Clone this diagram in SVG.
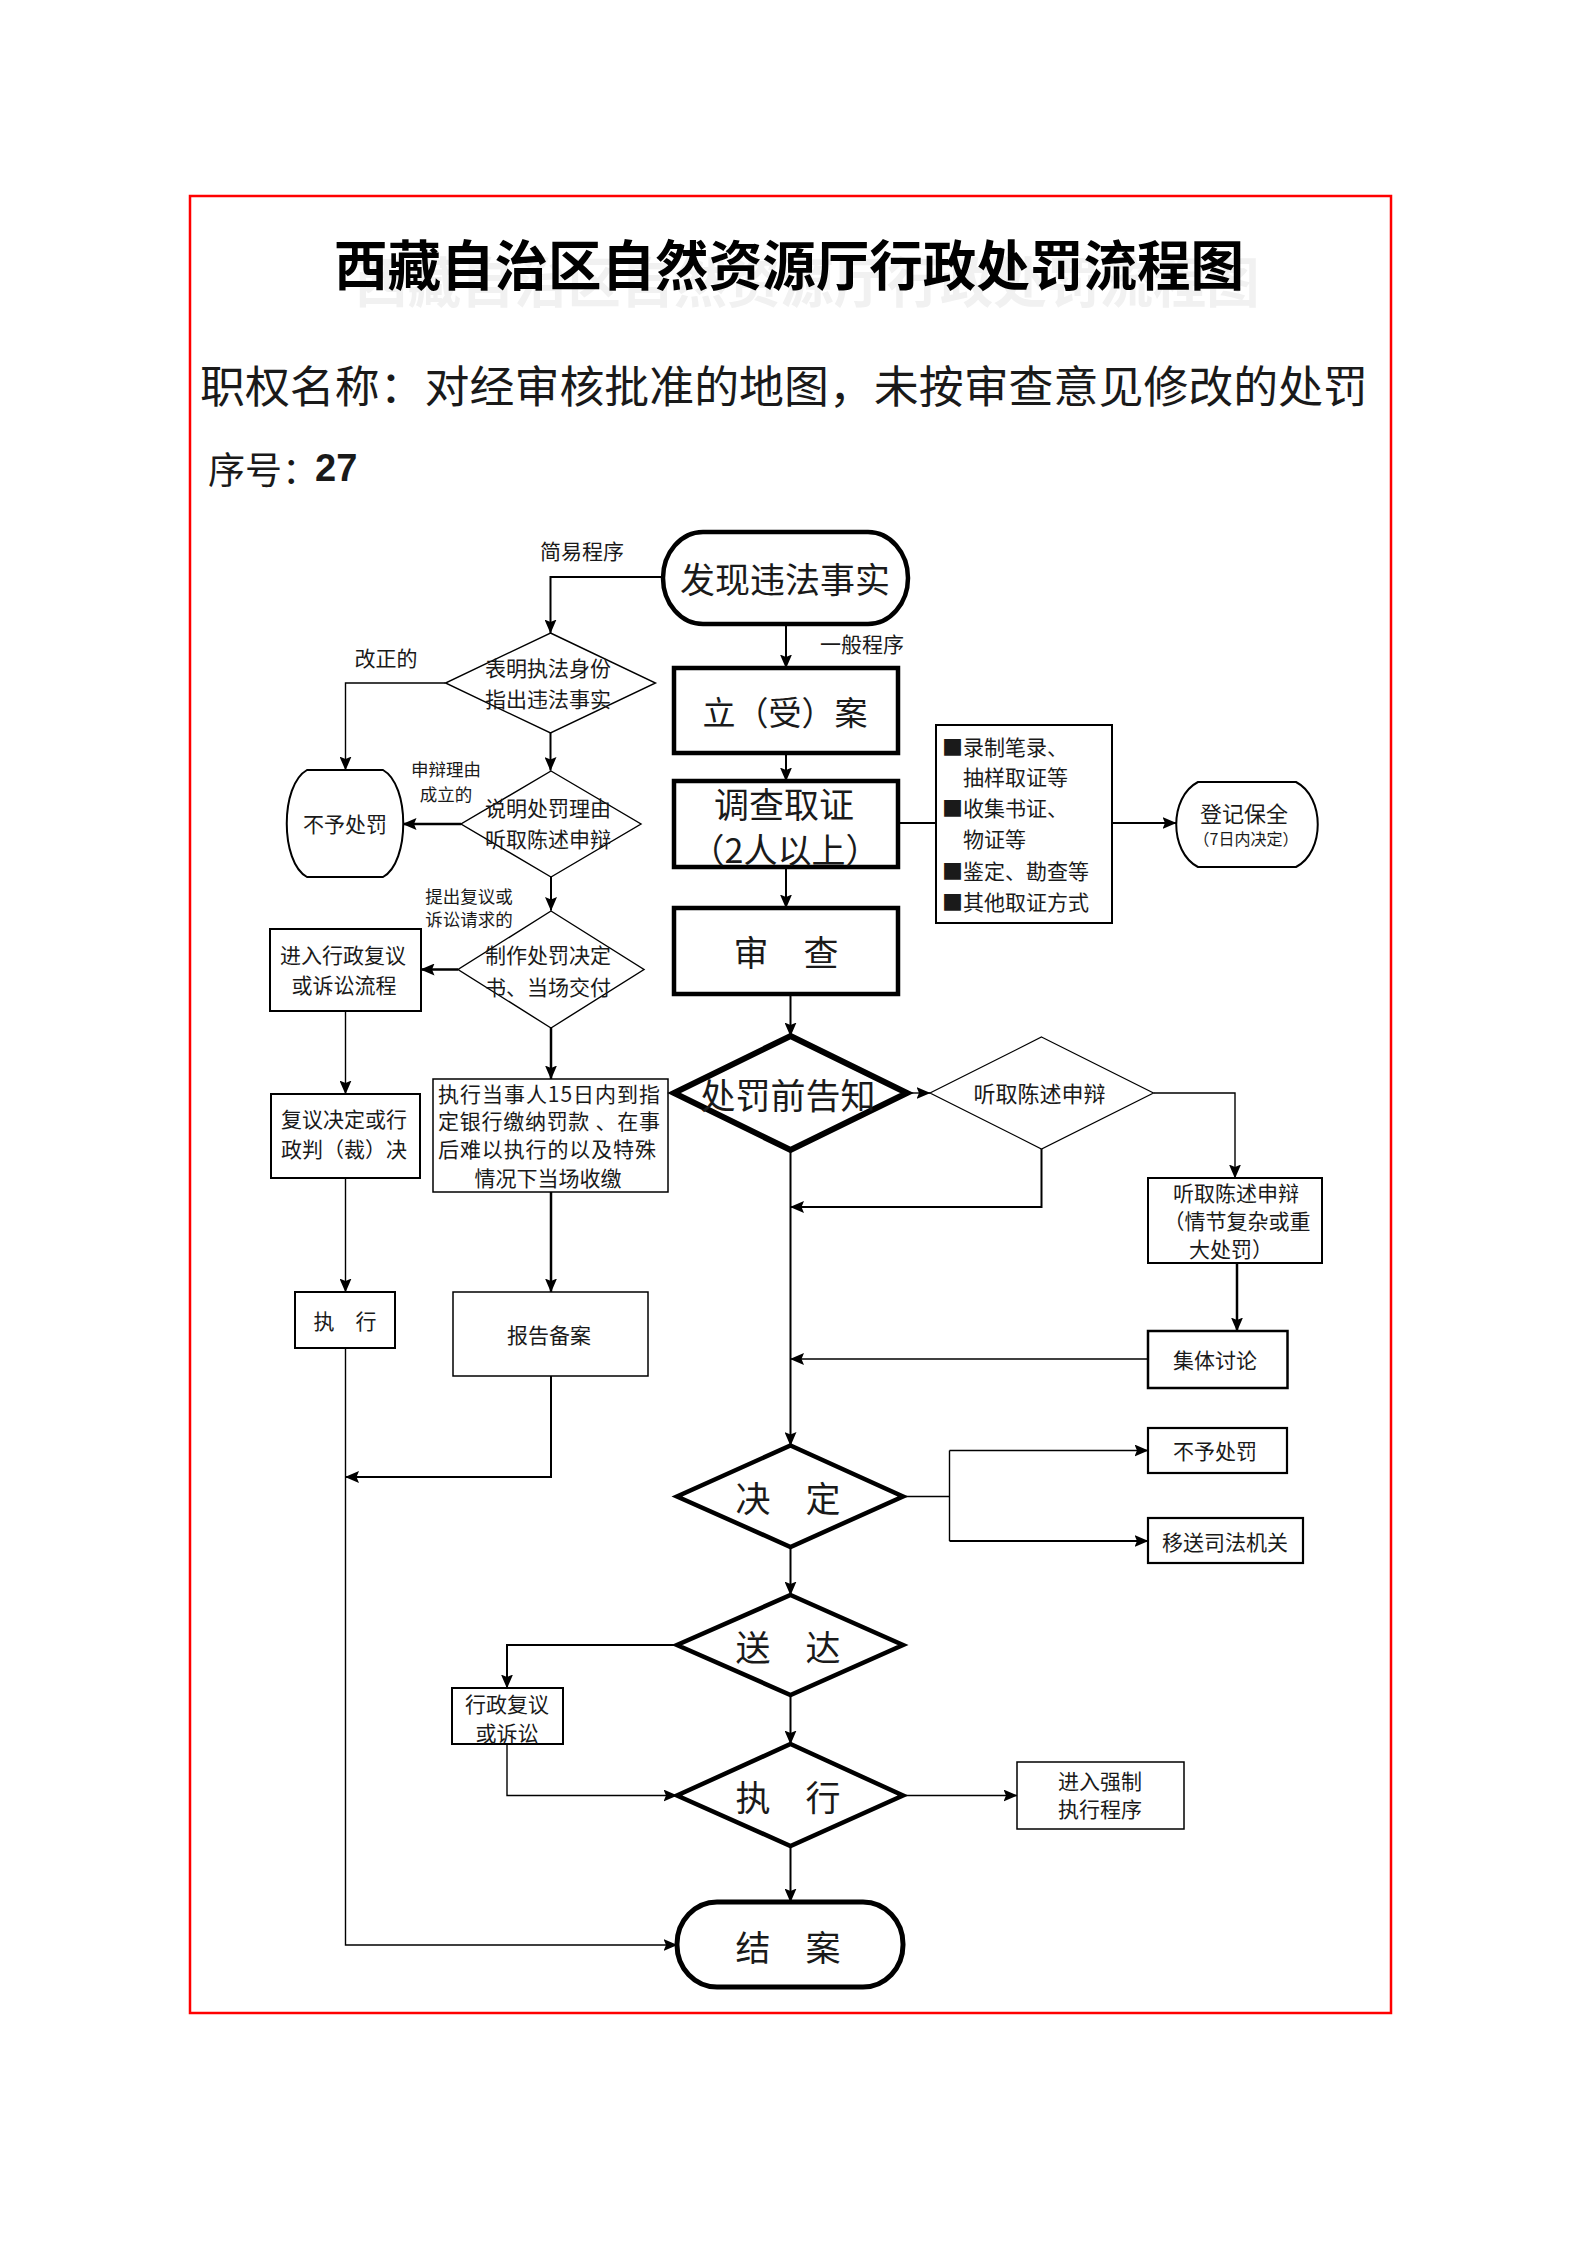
<svg xmlns="http://www.w3.org/2000/svg" width="1587" height="2245" viewBox="0 0 1587 2245">
<defs>
<marker id="ah" markerUnits="userSpaceOnUse" markerWidth="14" markerHeight="12" refX="13.5" refY="6" orient="auto"><path d="M0,0 L14,6 L0,12 L2.5,6 Z" fill="#000"/></marker>
<style>
text{font-family:"Noto Sans CJK SC","Noto Sans",sans-serif;fill:#1a1a1a;text-anchor:middle;dominant-baseline:central}
.t21{font-size:21px}
.t18{font-size:17.5px}
.t35{font-size:35px}
.n{fill:#fff;stroke:#000}
.thick{stroke-width:4.5}
.med{stroke-width:2}
.thin{stroke-width:1.4}
.c{fill:none;stroke:#000}
.c1{stroke-width:1.4}
.c2{stroke-width:2}
.c3{stroke-width:2.5}
.arr{marker-end:url(#ah)}
</style>
</defs>
<rect width="1587" height="2245" fill="#fff"/>
<rect x="190" y="196" width="1201" height="1817" fill="none" stroke="#ff0000" stroke-width="2.5"/>

<g id="header">
<text x="807" y="279" style="font-size:54px;font-weight:bold;fill:#f1f1f1" textLength="905" lengthAdjust="spacingAndGlyphs">西藏自治区自然资源厅行政处罚流程图</text>
<text x="789" y="262" style="font-size:54px;font-weight:bold;fill:#000" textLength="910" lengthAdjust="spacingAndGlyphs">西藏自治区自然资源厅行政处罚流程图</text>
<text x="200" y="384" style="font-size:44px;text-anchor:start" textLength="1168" lengthAdjust="spacingAndGlyphs">职权名称：对经审核批准的地图，未按审查意见修改的处罚</text>
<text x="208" y="468" style="font-size:37px;text-anchor:start">序号：<tspan x="315" style="font-family:'Liberation Sans',sans-serif;font-weight:bold;font-size:38px">27</tspan></text>
</g>

<g id="connectors">
<path class="c c2 arr" d="M786,624 V668"/>
<path class="c c2 arr" d="M663,577 H550.5 V633"/>
<path class="c c2 arr" d="M786,753 V781"/>
<path class="c c2 arr" d="M786,867 V908"/>
<path class="c c2" d="M898,823 H936"/>
<path class="c c2 arr" d="M1112,823 H1176"/>
<path class="c c2 arr" d="M790.5,994 V1036"/>
<path class="c c2 arr" d="M550.5,733 V770.5"/>
<path class="c c1 arr" d="M445.5,683 H345.5 V770"/>
<path class="c c3 arr" d="M461,824 H403"/>
<path class="c c2 arr" d="M551,877 V910.5"/>
<path class="c c3 arr" d="M458,969.5 H421"/>
<path class="c c3 arr" d="M551,1028 V1079"/>
<path class="c c1 arr" d="M345.5,1011 V1094"/>
<path class="c c1 arr" d="M345.5,1178 V1292"/>
<path class="c c3 arr" d="M551,1192 V1292"/>
<path class="c c2 arr" d="M551,1376 V1477 H345.5"/>
<path class="c c1 arr" d="M345.5,1348 V1945 H677"/>
<path class="c c1 arr" d="M907,1093 H930"/>
<path class="c c1 arr" d="M1153.5,1093 H1235 V1178"/>
<path class="c c2 arr" d="M1041.5,1149 V1207 H790.5"/>
<path class="c c3 arr" d="M1237,1263 V1331"/>
<path class="c c1 arr" d="M1148,1359 H790.5"/>
<path class="c c2 arr" d="M790.5,1150 V1445.5"/>
<path class="c c1" d="M903,1496.5 H949.5"/>
<path class="c c1" d="M949.5,1450.5 V1541"/>
<path class="c c1 arr" d="M949.5,1450.5 H1148"/>
<path class="c c2 arr" d="M949.5,1541 H1148"/>
<path class="c c2 arr" d="M790.5,1547 V1595"/>
<path class="c c2 arr" d="M677,1645 H507 V1688"/>
<path class="c c2 arr" d="M790.5,1695 V1744"/>
<path class="c c1 arr" d="M507,1744 V1795.5 H677"/>
<path class="c c1 arr" d="M903,1795.5 H1017"/>
<path class="c c2 arr" d="M790.5,1846 V1902"/>
</g>

<g id="labels">
<text class="t21" x="582" y="550">简易程序</text>
<text class="t21" x="862" y="643">一般程序</text>
<text class="t21" x="386" y="657">改正的</text>
<text class="t18" x="446" y="768">申辩理由</text>
<text class="t18" x="446" y="793">成立的</text>
<text class="t18" x="469" y="895">提出复议或</text>
<text class="t18" x="469" y="918">诉讼请求的</text>
</g>

<g id="n-start">
<rect class="n" x="663" y="532" width="245" height="92" rx="40" ry="46" stroke-width="4.5"/>
<text class="t35" x="785" y="577">发现违法事实</text>
</g>

<g id="n-lian">
<rect class="n thick" x="674" y="668" width="224" height="85"/>
<text x="785" y="711" style="font-size:33px">立（受）案</text>
</g>

<g id="n-diaocha">
<rect class="n thick" x="674" y="781" width="224" height="86"/>
<text class="t35" x="784" y="802">调查取证</text>
<text x="785" y="848" style="font-size:34px">（2人以上）</text>
</g>

<g id="n-shencha">
<rect class="n thick" x="674" y="908" width="224" height="86"/>
<text class="t35" x="786" y="950">审　查</text>
</g>

<g id="n-evidence">
<rect class="n med" x="936" y="725" width="176" height="198"/>
<text class="t21" x="942" y="746" style="text-anchor:start">■录制笔录、</text>
<text class="t21" x="963" y="776" style="text-anchor:start">抽样取证等</text>
<text class="t21" x="942" y="807" style="text-anchor:start">■收集书证、</text>
<text class="t21" x="963" y="838" style="text-anchor:start">物证等</text>
<text class="t21" x="942" y="870" style="text-anchor:start">■鉴定、勘查等</text>
<text class="t21" x="942" y="901" style="text-anchor:start">■其他取证方式</text>
</g>

<g id="n-baoquan">
<path class="n med" d="M1198,782 H1296 C1325,797 1325,852 1296,867 H1198 C1169,852 1169,797 1198,782 Z"/>
<text x="1244" y="812" style="font-size:22px">登记保全</text>
<text x="1246" y="838" style="font-size:16px">（7日内决定）</text>
</g>

<g id="n-d1">
<polygon class="n thin" points="550.5,633 655.5,683 550.5,733 445.5,683"/>
<text class="t21" x="548" y="667">表明执法身份</text>
<text class="t21" x="548" y="698">指出违法事实</text>
</g>

<g id="n-d2">
<polygon class="n thin" points="551,771 641,824 551,877 461,824"/>
<text class="t21" x="548" y="807">说明处罚理由</text>
<text class="t21" x="548" y="838">听取陈述申辩</text>
</g>

<g id="n-d3">
<polygon class="n thin" points="551,911 644,969.5 551,1028 458,969.5"/>
<text class="t21" x="548" y="954">制作处罚决定</text>
<text class="t21" x="548" y="986">书、当场交付</text>
</g>

<g id="n-buyu-left">
<path class="n med" d="M307,770 H383 C410,785 410,862 383,877 H307 C280,862 280,785 307,770 Z"/>
<text class="t21" x="345" y="823">不予处罚</text>
</g>

<g id="n-fuyi-flow">
<rect class="n med" x="270" y="929" width="151" height="82"/>
<text class="t21" x="343" y="954">进入行政复议</text>
<text class="t21" x="344" y="984">或诉讼流程</text>
</g>

<g id="n-fuyi-decision">
<rect class="n med" x="271" y="1094" width="149" height="84"/>
<text class="t21" x="344" y="1118">复议决定或行</text>
<text class="t21" x="344" y="1148">政判（裁）决</text>
</g>

<g id="n-dangchang">
<rect class="n" x="433" y="1079" width="235" height="113" stroke-width="1.5"/>
<text class="t21" x="438" y="1093" style="text-anchor:start" textLength="222" lengthAdjust="spacing">执行当事人15日内到指</text>
<text class="t21" x="438" y="1120" style="text-anchor:start" textLength="222" lengthAdjust="spacing">定银行缴纳罚款 、在事</text>
<text class="t21" x="438" y="1148" style="text-anchor:start" textLength="218" lengthAdjust="spacing">后难以执行的以及特殊</text>
<text class="t21" x="548" y="1177">情况下当场收缴</text>
</g>

<g id="n-zhixing-left">
<rect class="n med" x="295" y="1292" width="100" height="56"/>
<text class="t21" x="345" y="1320">执　行</text>
</g>

<g id="n-baogao">
<rect class="n" x="453" y="1292" width="195" height="84" stroke-width="1.5"/>
<text class="t21" x="549" y="1334">报告备案</text>
</g>

<g id="n-gaozhi">
<polygon class="n" points="790.5,1036 907,1093 790.5,1150 674,1093" stroke-width="6"/>
<text class="t35" x="788" y="1093">处罚前告知</text>
</g>

<g id="n-tingqu-d">
<polygon class="n" points="1041.5,1037 1153.5,1093 1041.5,1149 930,1093" stroke-width="1.2"/>
<text x="1039.5" y="1092" style="font-size:22px">听取陈述申辩</text>
</g>

<g id="n-tingqu-box">
<rect class="n med" x="1148" y="1178" width="174" height="85"/>
<text class="t21" x="1236" y="1192">听取陈述申辩</text>
<text class="t21" x="1237" y="1220">（情节复杂或重</text>
<text class="t21" x="1231" y="1248">大处罚）</text>
</g>

<g id="n-jiti">
<rect class="n" x="1148" y="1331" width="139.5" height="57" stroke-width="2.5"/>
<text class="t21" x="1215" y="1359">集体讨论</text>
</g>

<g id="n-jueding">
<polygon class="n thick" points="790.5,1445.5 903,1496.5 790.5,1547 677,1496.5"/>
<text class="t35" x="788" y="1496">决　定</text>
</g>

<g id="n-buyu-right">
<rect class="n" x="1148" y="1428" width="139" height="45" stroke-width="2.2"/>
<text class="t21" x="1215" y="1450">不予处罚</text>
</g>

<g id="n-yisong">
<rect class="n" x="1148" y="1518" width="155" height="45" stroke-width="2.2"/>
<text class="t21" x="1225" y="1541">移送司法机关</text>
</g>

<g id="n-songda">
<polygon class="n thick" points="790.5,1595 903,1645 790.5,1695 677,1645"/>
<text class="t35" x="788" y="1645">送　达</text>
</g>

<g id="n-fuyi-small">
<rect class="n med" x="452" y="1688" width="111" height="56"/>
<text class="t21" x="507" y="1703">行政复议</text>
<text class="t21" x="507" y="1732">或诉讼</text>
</g>

<g id="n-zhixing">
<polygon class="n thick" points="790.5,1744 903,1795.5 790.5,1846 677,1795.5"/>
<text class="t35" x="788" y="1795">执　行</text>
</g>

<g id="n-qiangzhi">
<rect class="n" x="1017" y="1762" width="167" height="67" stroke-width="1.5"/>
<text class="t21" x="1100" y="1780">进入强制</text>
<text class="t21" x="1100" y="1808">执行程序</text>
</g>

<g id="n-jiean">
<rect class="n" x="677" y="1902" width="226" height="85" rx="40" ry="42" stroke-width="5"/>
<text class="t35" x="788" y="1945">结　案</text>
</g>
</svg>
